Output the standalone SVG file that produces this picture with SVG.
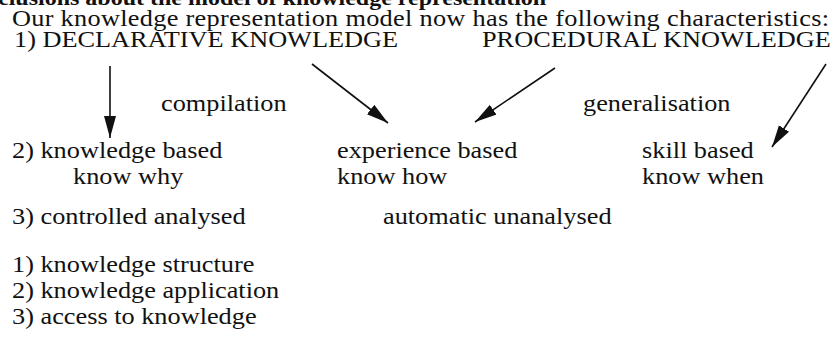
<svg xmlns="http://www.w3.org/2000/svg" width="840" height="339" viewBox="0 0 840 339" font-family="'Liberation Serif','Times New Roman',serif">
<style>
text{font-family:"Liberation Serif","Times New Roman",serif;font-size:26.3px;fill:#111}
.b{font-weight:bold;font-size:24px}
.c{stroke:#111;stroke-width:1.6;fill:none}
</style>
<defs>
<marker id="ah" markerUnits="userSpaceOnUse" markerWidth="24" markerHeight="14" refX="22" refY="6" orient="auto">
<path d="M0,0 L22,6 L0,12 z" fill="#111"/>
</marker>
</defs>
<rect width="840" height="339" fill="#fff"/>
<g id="header">
<text class="b" transform="translate(-2 5) scale(1 .88)">clusions about the model of knowledge representation</text>
<text transform="translate(12 26) scale(1 .88)" textLength="817" lengthAdjust="spacing">Our knowledge representation model now has the following characteristics:</text>
</g>
<g id="declarative"><text transform="translate(14 47) scale(1 .88)">1) DECLARATIVE KNOWLEDGE</text></g>
<g id="procedural"><text transform="translate(482 47) scale(1 .88)">PROCEDURAL KNOWLEDGE</text></g>
<g id="compilation"><text transform="translate(161 111) scale(1 .88)">compilation</text></g>
<g id="generalisation"><text transform="translate(583 111) scale(1 .88)">generalisation</text></g>
<g id="knowledge-based"><text transform="translate(12 158) scale(1 .88)">2) knowledge based</text><text transform="translate(73 184) scale(1 .88)">know why</text></g>
<g id="experience-based"><text transform="translate(337 158) scale(1 .88)">experience based</text><text transform="translate(337 184) scale(1 .88)">know how</text></g>
<g id="skill-based"><text transform="translate(642 158) scale(1 .88)">skill based</text><text transform="translate(642 184) scale(1 .88)">know when</text></g>
<g id="controlled"><text transform="translate(12 224) scale(1 .88)">3) controlled analysed</text></g>
<g id="automatic"><text transform="translate(383 224) scale(1 .88)">automatic unanalysed</text></g>
<g id="list">
<text transform="translate(12 272) scale(1 .88)">1) knowledge structure</text>
<text transform="translate(12 298) scale(1 .88)">2) knowledge application</text>
<text transform="translate(12 324) scale(1 .88)">3) access to knowledge</text>
</g>
<g id="connectors">
<line class="c" x1="110" y1="66" x2="110" y2="138" marker-end="url(#ah)"/>
<line class="c" x1="312" y1="64" x2="388" y2="123" marker-end="url(#ah)"/>
<line class="c" x1="555" y1="68" x2="475" y2="122" marker-end="url(#ah)"/>
<line class="c" x1="826" y1="64" x2="772" y2="147" marker-end="url(#ah)"/>
</g>
</svg>
